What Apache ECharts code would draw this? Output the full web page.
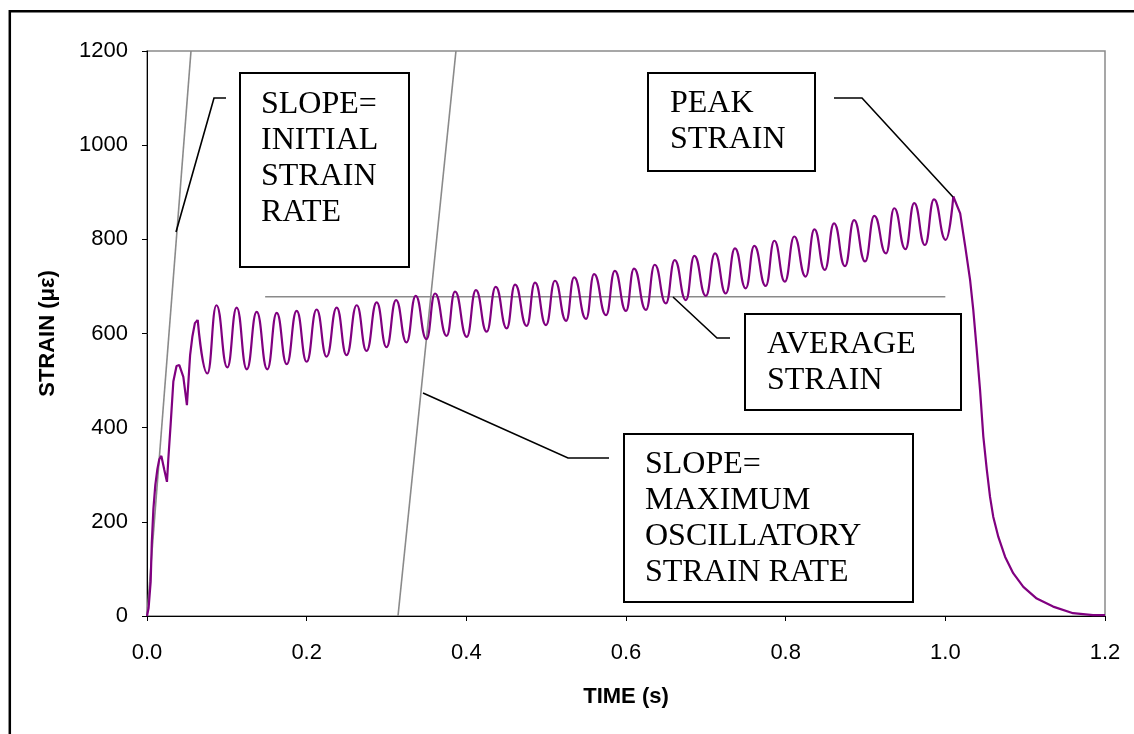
<!DOCTYPE html>
<html>
<head>
<meta charset="utf-8">
<title>Strain history</title>
<script src="https://cdn.jsdelivr.net/npm/echarts@6/dist/echarts.min.js"></script>
<style>
  html, body { margin: 0; padding: 0; background: #fff; }
  #chart { width: 1134px; height: 734px; }
</style>
</head>
<body>
<div id="chart"></div>
<script>
// Strain record: loading ramp, oscillating hold, unloading tail (time in s, strain in microstrain)
const rampTime   = [0, 0.002, 0.0046, 0.006, 0.008, 0.0104, 0.013, 0.0154, 0.018, 0.0217, 0.025, 0.0267, 0.0297, 0.033, 0.037, 0.0405, 0.0455, 0.050, 0.054, 0.0568, 0.060, 0.0635];
const rampStrain = [0, 17, 73, 155, 227, 278, 312, 333, 340, 310, 285, 333, 409, 498, 531, 533, 508, 448, 554, 593, 622, 629];

const oscTime = [
  0.0635,
  0.0756, 0.087, 0.1006, 0.1123, 0.125, 0.1374, 0.1507, 0.1625, 0.175, 0.1875,
  0.200, 0.2125, 0.225, 0.2376, 0.250, 0.2627, 0.275, 0.2877, 0.300, 0.312,
  0.325, 0.3366, 0.350, 0.3608, 0.3754, 0.3858, 0.4005, 0.412, 0.4255, 0.4368,
  0.4506, 0.461, 0.4756, 0.486, 0.4998, 0.511, 0.525, 0.535, 0.550, 0.560,
  0.575, 0.586, 0.600, 0.610, 0.625, 0.636, 0.650, 0.661, 0.675, 0.6856,
  0.700, 0.7115, 0.725, 0.7365, 0.750, 0.7607, 0.775, 0.7858, 0.799, 0.8108,
  0.825, 0.836, 0.849, 0.8606, 0.8743, 0.8857, 0.8995, 0.911, 0.9257, 0.936,
  0.950, 0.961, 0.9745, 0.9858, 1.0005, 1.010
];
const oscStrain = [
  629,
  515, 660, 528, 655, 524, 646, 524, 644, 535, 648,
  540, 651, 551, 655, 554, 660, 563, 666, 571, 671,
  581, 680, 588, 685, 595, 689, 593, 692, 604, 699,
  611, 704, 616, 708, 618, 712, 627, 719, 631, 726,
  639, 733, 648, 738, 650, 746, 664, 756, 671, 765,
  680, 770, 685, 781, 696, 786, 701, 797, 710, 806,
  721, 821, 735, 834, 743, 841, 753, 850, 770, 866,
  779, 877, 788, 885, 799, 891
];

const decayTime   = [1.010, 1.0186, 1.0249, 1.031, 1.035, 1.039, 1.0435, 1.0476, 1.052, 1.056, 1.060, 1.0664, 1.0748, 1.085, 1.0977, 1.1145, 1.135, 1.160, 1.185, 1.200];
const decayStrain = [891, 855, 785, 714, 650, 572, 480, 381, 310, 253, 211, 168, 126, 91, 62, 37, 20, 6, 2, 2];

// Construction lines: initial strain rate, maximum oscillatory strain rate, average strain
const initialRateLine = [[0, 0], [0.0551, 1200]];
const maxOscRateLine  = [[0.3144, 0], [0.387, 1200]];
const averageLine     = [[0.148, 678], [1.0, 678]];

const xTicks = { min: 0, max: 1.2, interval: 0.2 };
const yTicks = { min: 0, max: 1200, interval: 200 };

const pairs = (ts, vs) => ts.map((t, i) => [t, vs[i]]);

const chart = echarts.init(document.getElementById('chart'), null, { renderer: 'canvas' });

const serif = '"Liberation Serif", "Times New Roman", serif';
const sans = '"Liberation Sans", Arial, sans-serif';

function noteBox(x, y, w, h, lines, tx, ty) {
  return [
    { type: 'rect', z: 50, shape: { x: x, y: y, width: w, height: h },
      style: { fill: '#fff', stroke: '#000', lineWidth: 2 } },
    { type: 'text', z: 51, x: tx, y: ty,
      style: { text: lines.join('\n'), font: '32px ' + serif, fill: '#000',
               lineHeight: 36, textVerticalAlign: 'top', textAlign: 'left' } }
  ];
}
function leader(points) {
  return { type: 'polyline', z: 49, shape: { points: points },
           style: { stroke: '#000', lineWidth: 1.6, fill: null } };
}

const grayLine = { color: '#8a8a8a', width: 1.6 };
const strainLine = { color: '#800080', width: 2.2 };

chart.setOption({
  animation: false,
  backgroundColor: '#fff',
  grid: { left: 147, top: 51, right: 29, bottom: 118, show: true,
          borderColor: '#8a8a8a', borderWidth: 1.5, backgroundColor: 'transparent' },
  xAxis: {
    type: 'value', min: xTicks.min, max: xTicks.max, interval: xTicks.interval,
    name: 'TIME (s)', nameLocation: 'middle', nameGap: 70,
    nameTextStyle: { fontFamily: sans, fontWeight: 'bold', fontSize: 22, color: '#000' },
    axisLine: { show: true, onZero: false, lineStyle: { color: '#000', width: 1 } },
    axisTick: { show: true, inside: false, length: 5, lineStyle: { color: '#000' } },
    axisLabel: { fontFamily: sans, fontSize: 22, color: '#000', margin: 26,
                 formatter: v => v.toFixed(1) },
    splitLine: { show: false }
  },
  yAxis: {
    type: 'value', min: yTicks.min, max: yTicks.max, interval: yTicks.interval,
    name: 'STRAIN (\u03bc\u03b5)', nameLocation: 'middle', nameGap: 88, nameRotate: 90,
    nameTextStyle: { fontFamily: sans, fontWeight: 'bold', fontSize: 22, color: '#000' },
    axisLine: { show: true, lineStyle: { color: '#000', width: 1 } },
    axisTick: { show: true, inside: false, length: 5, lineStyle: { color: '#000' } },
    axisLabel: { fontFamily: sans, fontSize: 22, color: '#000', margin: 19,
                 formatter: v => String(v) },
    splitLine: { show: false }
  },
  series: [
    { name: 'initial rate', type: 'line', data: initialRateLine, symbol: 'none',
      lineStyle: grayLine, z: 2, silent: true },
    { name: 'max oscillatory rate', type: 'line', data: maxOscRateLine, symbol: 'none',
      lineStyle: grayLine, z: 2, silent: true },
    { name: 'average', type: 'line', data: averageLine, symbol: 'none',
      lineStyle: grayLine, z: 2, silent: true },
    { name: 'strain ramp', type: 'line', data: pairs(rampTime, rampStrain), symbol: 'none',
      lineStyle: strainLine, z: 3, silent: true },
    { name: 'strain hold', type: 'line', data: pairs(oscTime, oscStrain), symbol: 'none',
      smooth: 0.5, smoothMonotone: 'x', lineStyle: strainLine, z: 3, silent: true },
    { name: 'strain release', type: 'line', data: pairs(decayTime, decayStrain), symbol: 'none',
      lineStyle: strainLine, z: 3, silent: true }
  ],
  graphic: [
    { type: 'rect', z: 60, shape: { x: 9.8, y: 11.3, width: 1140, height: 740 },
      style: { fill: null, stroke: '#000', lineWidth: 2.5 } },
    leader([[176, 232], [214, 98], [226, 98]]),
    leader([[953, 197], [862, 98], [834, 98]]),
    leader([[673, 297], [717, 338], [730, 338]]),
    leader([[423, 393], [568, 458], [609, 458]])
  ]
  .concat(noteBox(240, 73, 169, 194, ['SLOPE=', 'INITIAL', 'STRAIN', 'RATE'], 261, 87))
  .concat(noteBox(648, 73, 167, 98, ['PEAK', 'STRAIN'], 670, 86))
  .concat(noteBox(745, 314, 216, 96, ['AVERAGE', 'STRAIN'], 767, 327))
  .concat(noteBox(624, 434, 289, 168, ['SLOPE=', 'MAXIMUM', 'OSCILLATORY', 'STRAIN RATE'], 645, 447))
});
</script>
</body>
</html>
